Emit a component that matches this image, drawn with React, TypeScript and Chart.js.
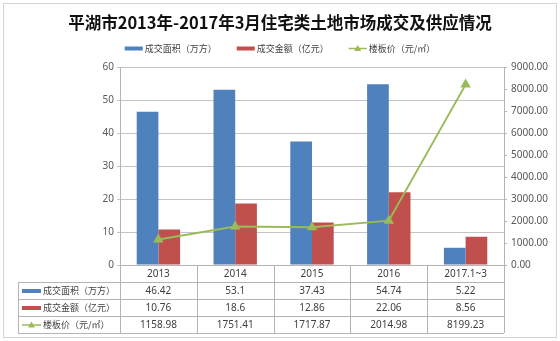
import React, { useEffect, useRef } from 'react';
import { Chart, registerables } from 'chart.js';

Chart.register(...registerables);

const TITLE = '平湖市2013年-2017年3月住宅类土地市场成交及供应情况';
const categories = ['2013', '2014', '2015', '2016', '2017.1~3'];
const areaValues = [46.42, 53.1, 37.43, 54.74, 5.22];
const amountValues = [10.76, 18.6, 12.86, 22.06, 8.56];
const priceValues = [1158.98, 1751.41, 1717.87, 2014.98, 8199.23];
const seriesNames = ['成交面积（万方）', '成交金额（亿元）', '楼板价（元/㎡）'];
const seriesKinds = ['bar', 'bar', 'line'];
const seriesColors = ['#4F81BD', '#C0504D', '#9BBB59'];
const seriesValues = [areaValues, amountValues, priceValues];

const FONT_CJK = '"Noto Sans CJK SC", "Noto Sans", sans-serif';
const FONT_NUM = '"Noto Sans", "Liberation Sans", sans-serif';
const TEXT_COLOR = '#404040';
const LINE_COLOR = '#b4b4b4';

function drawMarker(ctx: CanvasRenderingContext2D, kind: string, color: string, x: number, y: number, w: number) {
  ctx.save();
  if (kind === 'bar') {
    ctx.fillStyle = color;
    ctx.fillRect(x, y - 2, w, 4);
  } else {
    ctx.strokeStyle = color;
    ctx.lineWidth = 1.5;
    ctx.beginPath();
    ctx.moveTo(x, y);
    ctx.lineTo(x + w, y);
    ctx.stroke();
    const cx = x + w / 2;
    ctx.fillStyle = color;
    ctx.beginPath();
    ctx.moveTo(cx, y - 3.5);
    ctx.lineTo(cx + 3.5, y + 2.5);
    ctx.lineTo(cx - 3.5, y + 2.5);
    ctx.closePath();
    ctx.fill();
  }
  ctx.restore();
}

const decorPlugin = {
  id: 'decor',
  beforeDraw(chart: any) {
    const ctx: CanvasRenderingContext2D = chart.ctx;
    ctx.save();
    ctx.fillStyle = '#ffffff';
    ctx.fillRect(0, 0, chart.width, chart.height);
    ctx.strokeStyle = '#d4d4d4';
    ctx.lineWidth = 1;
    ctx.strokeRect(3.5, 3.5, chart.width - 7, chart.height - 7);
    ctx.restore();
  },
  afterDraw(chart: any) {
    const ctx: CanvasRenderingContext2D = chart.ctx;
    const area = chart.chartArea;
    const xScale = chart.scales.x;
    const cx = chart.width / 2;
    ctx.save();

    // Title
    ctx.fillStyle = '#111111';
    ctx.font = `bold 16.5px ${FONT_CJK}`;
    ctx.textAlign = 'center';
    ctx.textBaseline = 'middle';
    ctx.fillText(TITLE, cx, 23);

    // Legend
    const mw = 18;
    const gapIn = 2;
    const gapOut = 20;
    ctx.font = `9px ${FONT_CJK}`;
    const widths = seriesNames.map((n) => ctx.measureText(n).width);
    const total = widths.reduce((a, b) => a + b, 0) + seriesNames.length * (mw + gapIn) + (seriesNames.length - 1) * gapOut;
    let lx = cx - total / 2;
    const ly = 48.5;
    ctx.textAlign = 'left';
    ctx.fillStyle = TEXT_COLOR;
    seriesNames.forEach((n, i) => {
      drawMarker(ctx, seriesKinds[i], seriesColors[i], lx, ly, mw);
      ctx.fillStyle = TEXT_COLOR;
      ctx.fillText(n, lx + mw + gapIn, ly);
      lx += mw + gapIn + widths[i] + gapOut;
    });

    // Data table
    const rowH = 17;
    const top = area.bottom;
    const tableLeft = 18;
    const n = categories.length;
    const catW = (area.right - area.left) / n;
    const bottom = top + rowH * 4;
    ctx.strokeStyle = LINE_COLOR;
    ctx.lineWidth = 1;
    ctx.beginPath();
    for (let i = 0; i <= n; i++) {
      const x = Math.round(area.left + i * catW) + 0.5;
      ctx.moveTo(x, top);
      ctx.lineTo(x, bottom);
    }
    for (let r = 1; r <= 4; r++) {
      const y = Math.round(top + r * rowH) + 0.5;
      ctx.moveTo(tableLeft, y);
      ctx.lineTo(area.right, y);
    }
    ctx.moveTo(tableLeft + 0.5, top + rowH);
    ctx.lineTo(tableLeft + 0.5, bottom);
    ctx.stroke();

    ctx.fillStyle = TEXT_COLOR;
    ctx.textAlign = 'center';
    ctx.textBaseline = 'middle';
    ctx.font = `10px ${FONT_NUM}`;
    categories.forEach((c, i) => {
      ctx.fillText(c, xScale.getPixelForValue(i), top + rowH / 2 + 0.5);
    });
    seriesNames.forEach((name, r) => {
      const yc = top + rowH * (r + 1) + rowH / 2 + 0.5;
      drawMarker(ctx, seriesKinds[r], seriesColors[r], tableLeft + 4, yc, 19);
      ctx.fillStyle = TEXT_COLOR;
      ctx.textAlign = 'left';
      ctx.font = `9px ${FONT_CJK}`;
      ctx.fillText(name, tableLeft + 25, yc);
      ctx.textAlign = 'center';
      ctx.font = `10px ${FONT_NUM}`;
      seriesValues[r].forEach((v, i) => {
        ctx.fillText(String(v), xScale.getPixelForValue(i), yc);
      });
    });
    ctx.restore();
  },
};

export default function App() {
  const ref = useRef<HTMLCanvasElement | null>(null);
  useEffect(() => {
    if (!ref.current) return;
    const chart = new Chart(ref.current, {
      type: 'bar',
      data: {
        labels: categories,
        datasets: [
          {
            type: 'bar',
            label: seriesNames[0],
            data: areaValues,
            backgroundColor: seriesColors[0],
            yAxisID: 'y',
            order: 2,
            categoryPercentage: 0.565,
            barPercentage: 1,
          },
          {
            type: 'bar',
            label: seriesNames[1],
            data: amountValues,
            backgroundColor: seriesColors[1],
            yAxisID: 'y',
            order: 2,
            categoryPercentage: 0.565,
            barPercentage: 1,
          },
          {
            type: 'line',
            label: seriesNames[2],
            data: priceValues,
            borderColor: seriesColors[2],
            backgroundColor: seriesColors[2],
            borderWidth: 2,
            pointStyle: 'triangle',
            pointRadius: 4,
            pointBackgroundColor: seriesColors[2],
            pointBorderColor: seriesColors[2],
            tension: 0,
            yAxisID: 'y1',
            order: 1,
          },
        ],
      } as any,
      options: {
        animation: false,
        responsive: false,
        layout: { padding: { top: 67, bottom: 76, left: 0, right: 0 } },
        plugins: {
          legend: { display: false },
          title: { display: false },
          tooltip: { enabled: false },
        },
        scales: {
          x: {
            grid: { display: false },
            border: { display: true, color: LINE_COLOR },
            ticks: { display: false },
            afterFit: (s: any) => {
              s.height = 0;
            },
          },
          y: {
            position: 'left',
            min: 0,
            max: 60,
            ticks: {
              stepSize: 10,
              color: '#595959',
              font: { size: 10, family: FONT_NUM },
              padding: 3,
            },
            grid: { color: '#c4c4c4', tickLength: 3 },
            border: { color: LINE_COLOR },
            afterFit: (s: any) => {
              s.width = 120;
            },
          },
          y1: {
            position: 'right',
            min: 0,
            max: 9000,
            ticks: {
              stepSize: 1000,
              color: '#595959',
              font: { size: 10, family: FONT_NUM },
              padding: 4,
              callback: (v: any) => Number(v).toFixed(2),
            },
            grid: { drawOnChartArea: false, color: LINE_COLOR, tickLength: 3 },
            border: { color: LINE_COLOR },
            afterFit: (s: any) => {
              s.width = 56;
            },
          },
        },
      } as any,
      plugins: [decorPlugin],
    });
    return () => chart.destroy();
  }, []);
  return (
    <div style={{ position: 'fixed', left: 0, top: 0, width: 560, height: 341 }}>
      <canvas ref={ref} width={560} height={341} style={{ width: 560, height: 341, display: 'block' }} />
    </div>
  );
}
